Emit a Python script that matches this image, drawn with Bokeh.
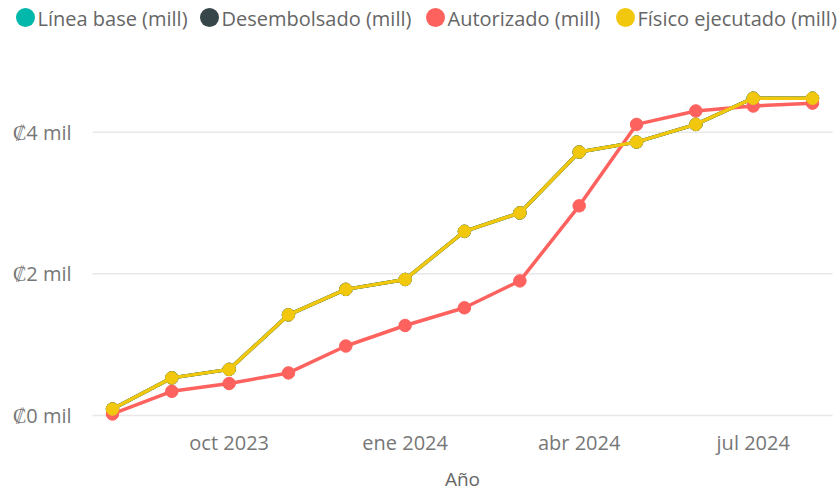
import pandas as pd
from bokeh.plotting import figure
from bokeh.models import Range1d
from bokeh.core.properties import value
from bokeh.embed import file_html
from bokeh.resources import INLINE

# ---- data ----
fechas = ["2023-08-01", "2023-09-01", "2023-10-01", "2023-11-01", "2023-12-01",
          "2024-01-01", "2024-02-01", "2024-03-01", "2024-04-01", "2024-05-01",
          "2024-06-01", "2024-07-01", "2024-08-01"]
linea_base = [0.09, 0.53, 0.65, 1.42, 1.78, 1.92, 2.60, 2.86, 3.72, 3.86, 4.11, 4.48, 4.48]
desembolsado = [0.09, 0.53, 0.65, 1.42, 1.78, 1.92, 2.60, 2.86, 3.72, 3.86, 4.11, 4.48, 4.48]
autorizado = [0.02, 0.34, 0.45, 0.60, 0.98, 1.27, 1.52, 1.90, 2.96, 4.11, 4.30, 4.37, 4.41]
fisico = [0.09, 0.53, 0.65, 1.42, 1.78, 1.92, 2.60, 2.86, 3.72, 3.86, 4.11, 4.48, 4.48]

series_names = ["Línea base (mill)", "Desembolsado (mill)", "Autorizado (mill)", "Físico ejecutado (mill)"]
series_values = [linea_base, desembolsado, autorizado, fisico]
colors = ["#01B8AA", "#374649", "#FD625E", "#F2C80F"]

x_tick_dates = ["2023-10-01", "2024-01-01", "2024-04-01", "2024-07-01"]
x_tick_labels = ["oct 2023", "ene 2024", "abr 2024", "jul 2024"]
x_title = "Año"
y_ticks = [0, 2, 4]
y_tick_labels = ["₡0 mil", "₡2 mil", "₡4 mil"]

base = pd.Timestamp(fechas[0])
xs = [(pd.Timestamp(d) - base).days for d in fechas]
xt = [(pd.Timestamp(d) - base).days for d in x_tick_dates]

FONT = value("Open Sans")
W, H = 840, 491

# ---- layout: canvas pixels -> data (frame covers the whole canvas) ----
X0_PX, X_PER_DAY = 112.0, 1.9126      # first date column, px per day
Y0_PX, Y_PER_UNIT = 414.9, 70.8       # zero line row, px per unit


def px2x(px):
    return (px - X0_PX) / X_PER_DAY


def py2y(py):
    return (Y0_PX - py) / Y_PER_UNIT


p = figure(width=W, height=H, output_backend="svg", toolbar_location=None,
           x_range=Range1d(px2x(0), px2x(W)), y_range=Range1d(py2y(H), py2y(0)),
           min_border=0, outline_line_color=None)
p.axis.visible = False
p.grid.visible = False

# gridlines at the y ticks
p.segment(x0=[px2x(92)] * len(y_ticks), x1=[px2x(832)] * len(y_ticks), y0=y_ticks, y1=y_ticks,
          line_color="#E8E8E8", line_width=1.5)

# y tick labels
p.text(x=[px2x(71)] * len(y_ticks), y=y_ticks, text=y_tick_labels, text_font=FONT,
       text_font_size="20px", text_color="#777777", text_align="right", text_baseline="middle")

# x tick labels and title
p.text(x=xt, y=[py2y(442)] * len(xt), text=x_tick_labels, text_font=FONT,
       text_font_size="20px", text_color="#777777", text_align="center", text_baseline="middle")
p.text(x=[px2x(462)], y=[py2y(478)], text=[x_title], text_font=FONT,
       text_font_size="19px", text_color="#666666", text_align="center", text_baseline="middle")

# series
for name, vals, c in zip(series_names, series_values, colors):
    p.line(xs, vals, line_color=c, line_width=3.5)
    p.scatter(xs, vals, size=12.5, fill_color=c, line_color=c, line_width=1)

# legend across the top
leg_cx = [25, 209, 435, 625]
leg_tx = [37, 221, 447, 637]
p.scatter(x=[px2x(v) for v in leg_cx], y=[py2y(17)] * 4, size=19, color=colors, line_color=None)
p.text(x=[px2x(v) for v in leg_tx], y=[py2y(18)] * 4, text=series_names, text_font=FONT,
       text_font_size="20px", text_color="#666666", text_align="left", text_baseline="middle")

open("out.html", "w").write(file_html(p, INLINE))
